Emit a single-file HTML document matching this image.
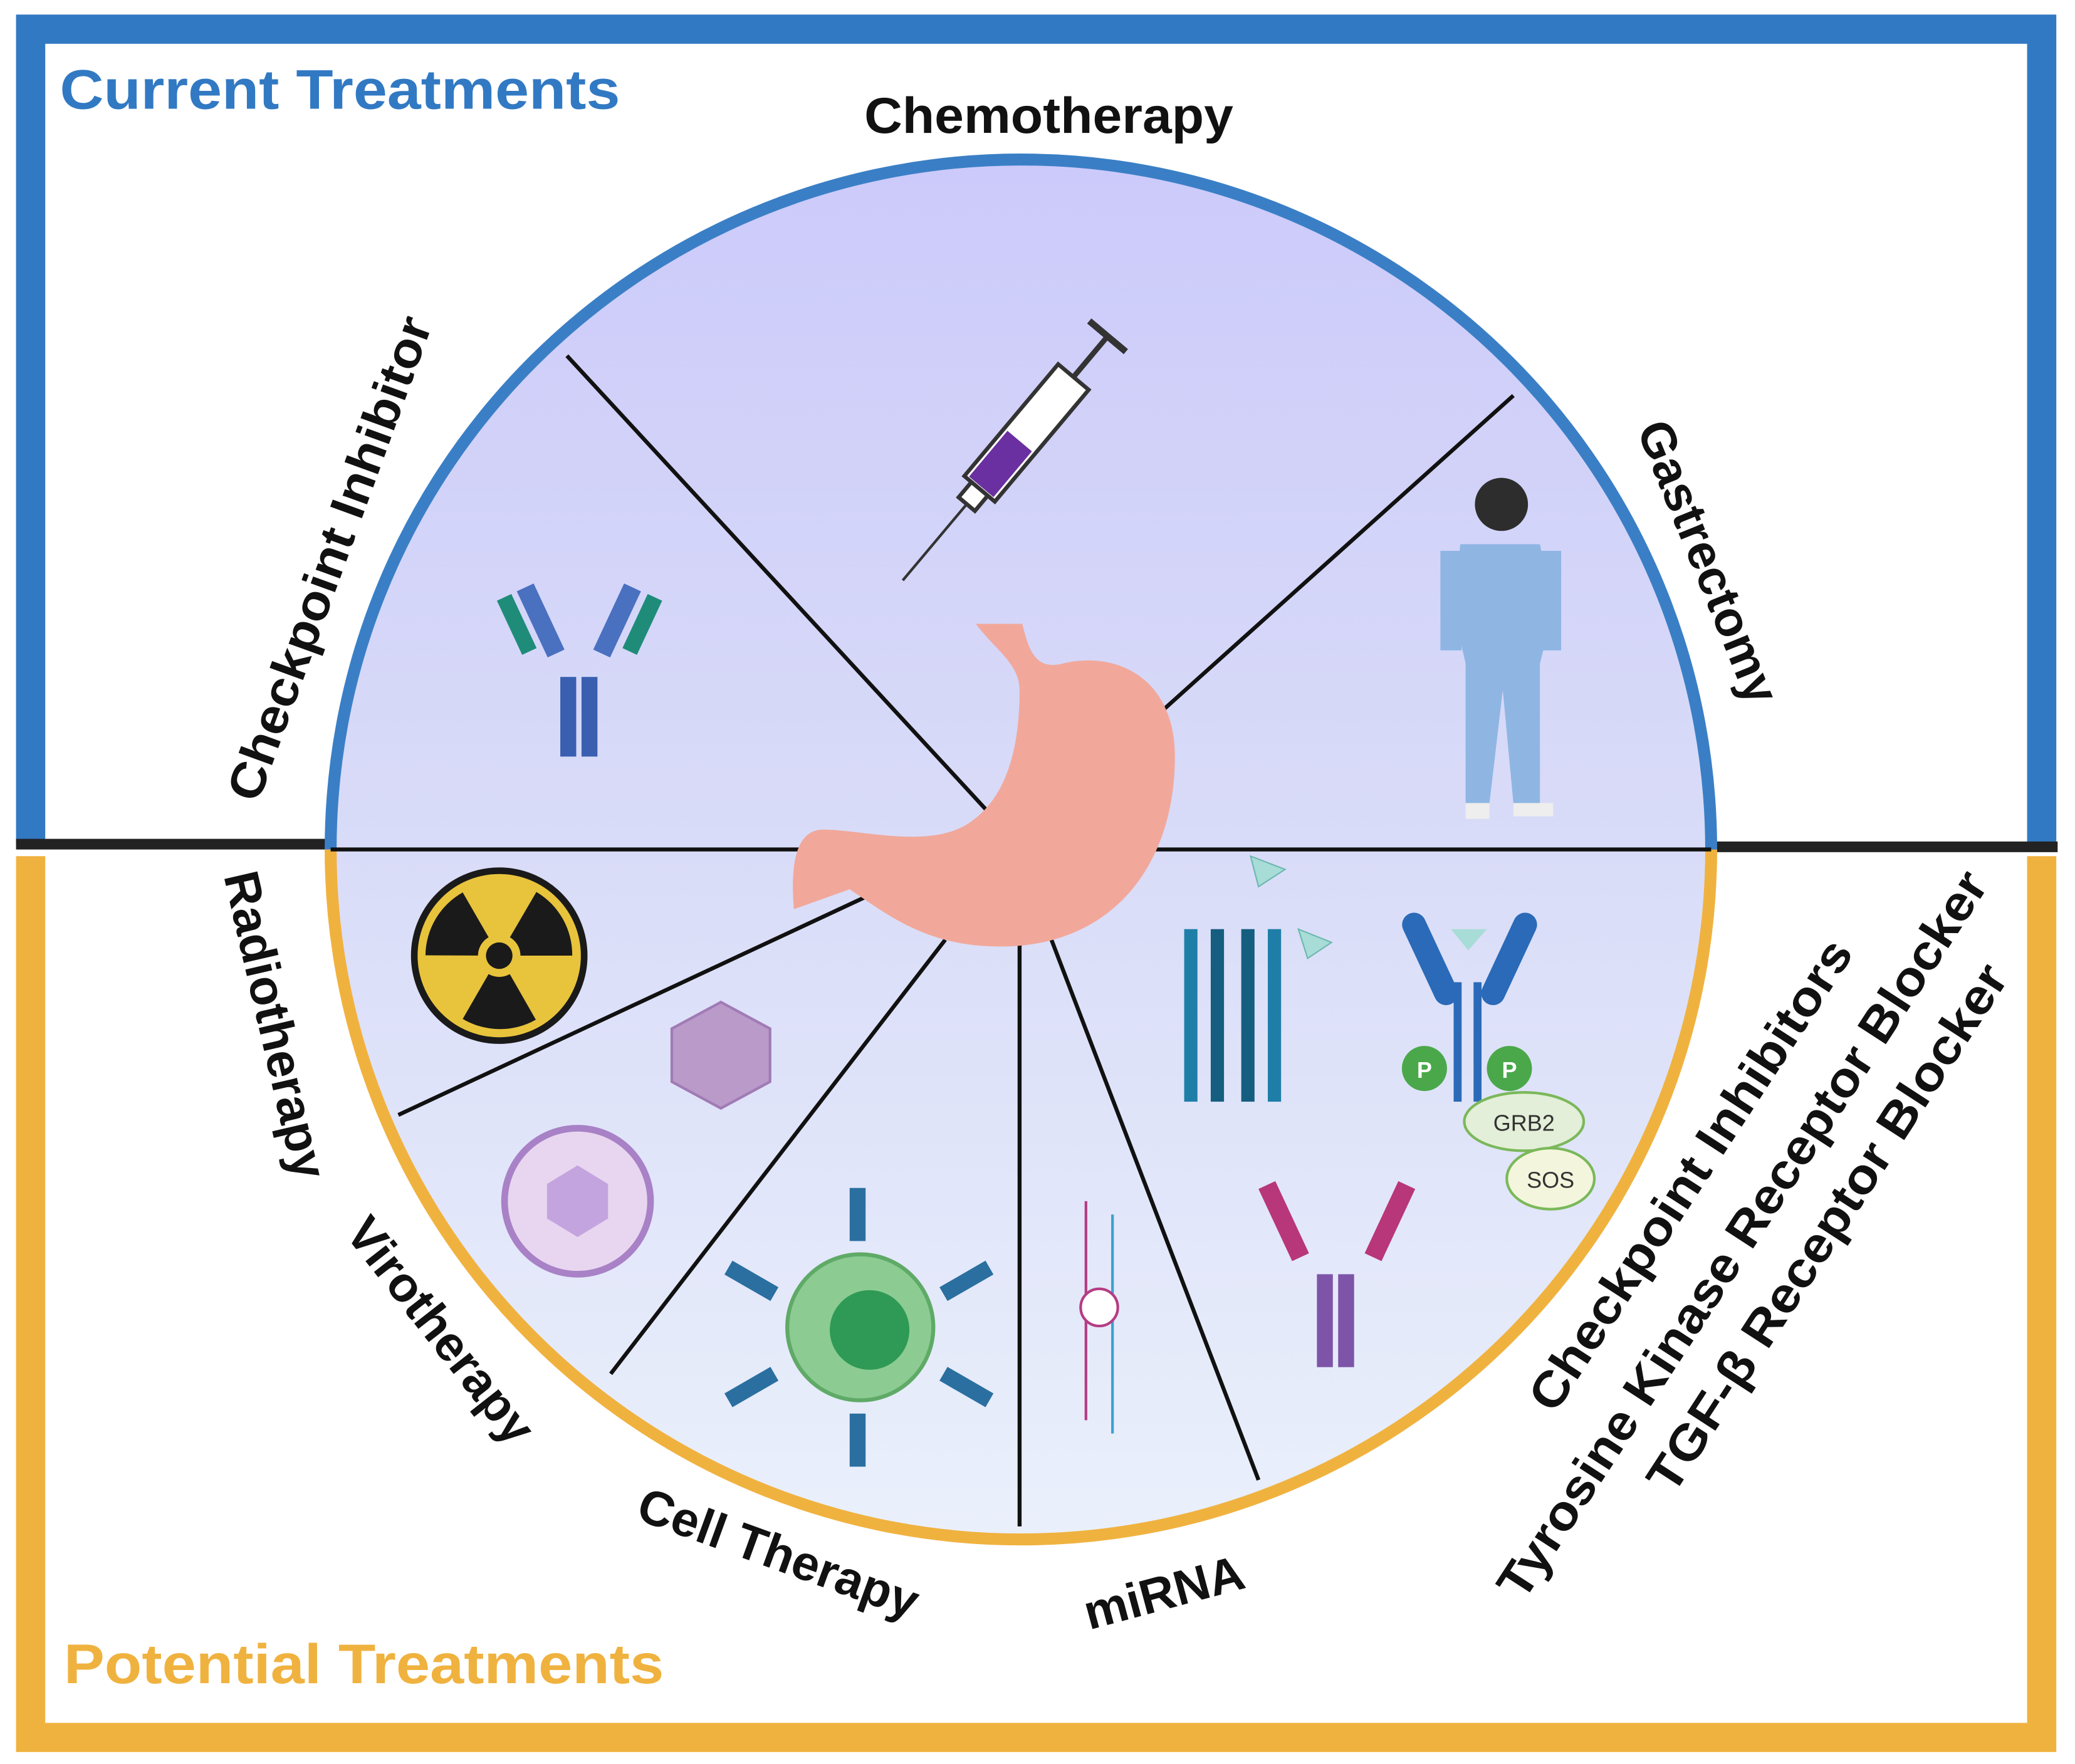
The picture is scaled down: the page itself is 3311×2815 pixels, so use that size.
<!DOCTYPE html>
<html><head><meta charset="utf-8"><style>
html,body{margin:0;padding:0;background:#fff}
svg{display:block}
text{font-family:"Liberation Sans",Arial,sans-serif;font-weight:bold}
</style></head><body>
<svg width="3311" height="2815" viewBox="0 0 1563 1329" xmlns="http://www.w3.org/2000/svg">
<defs>
<linearGradient id="g" x1="0" y1="0" x2="0" y2="1">
<stop offset="0" stop-color="#cccafa"/><stop offset="0.5" stop-color="#d9dcf8"/><stop offset="1" stop-color="#eaf0fb"/>
</linearGradient>
</defs>
<rect width="1563" height="1329" fill="#fff"/>
<path d="M23,636 V22 H1538 V636" fill="none" stroke="#3279c3" stroke-width="22"/>
<path d="M23,645 V1309 H1538 V645" fill="none" stroke="#f0b23f" stroke-width="22"/>
<line x1="12" y1="636" x2="250" y2="636" stroke="#222" stroke-width="8"/>
<line x1="1288" y1="638" x2="1550" y2="638" stroke="#222" stroke-width="8"/>
<circle cx="769" cy="640" r="520" fill="url(#g)"/>
<path d="M249,640 A520,520 0 0 1 1289,640" fill="none" stroke="#3a7fc6" stroke-width="9"/>
<path d="M249,640 A520,520 0 0 0 1289,640" fill="none" stroke="#f0b23f" stroke-width="9"/>
<g stroke="#111" stroke-width="3">
<line x1="249" y1="640" x2="1289" y2="640"/>
<line x1="427" y1="268" x2="752" y2="620"/>
<line x1="1140" y1="298" x2="876" y2="535"/>
<line x1="300" y1="840" x2="660" y2="672"/>
<line x1="460" y1="1035" x2="712" y2="708"/>
<line x1="768" y1="1150" x2="768" y2="708"/>
<line x1="948" y1="1115" x2="792" y2="708"/>
</g>
<path d="M735,470 C750,490 768,500 768,520 C768,560 760,600 730,620 C700,640 650,625 620,625 C600,625 595,650 598,685 L640,670 C670,690 700,715 760,713 C840,710 885,650 885,570 C885,510 840,490 800,500 C780,505 775,490 770,470 Z" fill="#f1a89a"/>
<g transform="rotate(-50 770 330)">
<rect x="720" y="315" width="110" height="30" fill="#fff" stroke="#333" stroke-width="3"/>
<rect x="722" y="318" width="45" height="24" fill="#6a2fa0"/>
<line x1="830" y1="330" x2="870" y2="330" stroke="#333" stroke-width="4"/>
<line x1="870" y1="312" x2="870" y2="348" stroke="#333" stroke-width="5"/>
<rect x="705" y="322" width="15" height="16" fill="#fff" stroke="#333" stroke-width="3"/>
<line x1="705" y1="330" x2="630" y2="330" stroke="#333" stroke-width="2"/>
</g>
<g>
<circle cx="1131" cy="380" r="20" fill="#2d2d2d"/>
<path d="M1100,410 L1160,410 L1170,460 L1160,500 L1160,605 L1140,605 L1132,520 L1122,605 L1104,605 L1104,500 L1095,460 Z" fill="#8fb6e3"/>
<rect x="1085" y="415" width="16" height="75" fill="#8fb6e3"/>
<rect x="1160" y="415" width="16" height="75" fill="#8fb6e3"/>
<rect x="1104" y="605" width="18" height="12" fill="#eee"/><rect x="1140" y="605" width="30" height="10" fill="#eee"/>
</g>
<g fill="#3a5fb0">
<rect x="422" y="510" width="12" height="60"/><rect x="438" y="510" width="12" height="60"/>
<rect x="400" y="440" width="14" height="55" transform="rotate(-25 407 467)" fill="#4a70c0"/>
<rect x="458" y="440" width="14" height="55" transform="rotate(25 465 467)" fill="#4a70c0"/>
<rect x="383" y="448" width="12" height="45" transform="rotate(-25 389 470)" fill="#1f8c7a"/>
<rect x="478" y="448" width="12" height="45" transform="rotate(25 484 470)" fill="#1f8c7a"/>
</g>
<circle cx="376" cy="720" r="64" fill="#e8c33c" stroke="#1a1a1a" stroke-width="5"/>
<g fill="#1a1a1a">
<path d="M376,720 L376,665 A55,55 0 0 0 328,692 Z" transform="rotate(-30 376 720)"/>
<path d="M376,720 L376,665 A55,55 0 0 0 328,692 Z" transform="rotate(90 376 720)"/>
<path d="M376,720 L376,665 A55,55 0 0 0 328,692 Z" transform="rotate(210 376 720)"/>
</g>
<circle cx="376" cy="720" r="16" fill="#e8c33c"/><circle cx="376" cy="720" r="10" fill="#1a1a1a"/>
<polygon points="543,755 580,775 580,815 543,835 506,815 506,775" fill="#b99ac8" stroke="#a07bb5" stroke-width="2"/>
<circle cx="435" cy="905" r="55" fill="#e8d6f0" stroke="#a881c6" stroke-width="5"/>
<polygon points="435,878 458,892 458,918 435,932 412,918 412,892" fill="#c4a4de"/>
<circle cx="648" cy="1000" r="55" fill="#8ccc92" stroke="#5faa67" stroke-width="3"/>
<circle cx="655" cy="1002" r="30" fill="#2f9a55"/>
<g fill="#2a6fa0">
<rect x="640" y="895" width="12" height="40"/><rect x="640" y="1065" width="12" height="40"/>
<rect x="560" y="945" width="12" height="40" transform="rotate(-60 566 965)"/>
<rect x="722" y="945" width="12" height="40" transform="rotate(60 728 965)"/>
<rect x="560" y="1025" width="12" height="40" transform="rotate(60 566 1045)"/>
<rect x="722" y="1025" width="12" height="40" transform="rotate(-60 728 1045)"/>
</g>
<g stroke="#b53c84" stroke-width="2"><line x1="818" y1="905" x2="818" y2="1070"/></g>
<g stroke="#3ba0d0" stroke-width="2"><line x1="838" y1="915" x2="838" y2="1080"/></g>
<circle cx="828" cy="985" r="14" fill="#fff" stroke="#b53c84" stroke-width="2"/>
<g fill="#1e7ea8">
<rect x="892" y="700" width="10" height="130"/><rect x="912" y="700" width="10" height="130" fill="#155e80"/>
<rect x="935" y="700" width="10" height="130" fill="#155e80"/><rect x="955" y="700" width="10" height="130"/>
</g>
<polygon points="942,645 968,655 948,668" fill="#a8dcd6" stroke="#6bb8b0"/>
<polygon points="978,700 1003,710 985,722" fill="#a8dcd6" stroke="#6bb8b0"/>
<g fill="#2a6ab8">
<rect x="1068" y="685" width="18" height="75" rx="9" transform="rotate(-25 1077 722)"/>
<rect x="1128" y="685" width="18" height="75" rx="9" transform="rotate(25 1137 722)"/>
<rect x="1095" y="740" width="6" height="90"/><rect x="1110" y="740" width="6" height="90"/>
</g>
<polygon points="1093,700 1120,700 1106,716" fill="#a8dcd6"/>
<circle cx="1073" cy="805" r="17" fill="#4aa84a"/><circle cx="1137" cy="805" r="17" fill="#4aa84a"/>
<text x="1073" y="812" font-size="17" fill="#fff" text-anchor="middle" font-weight="normal">P</text>
<text x="1137" y="812" font-size="17" fill="#fff" text-anchor="middle" font-weight="normal">P</text>
<ellipse cx="1148" cy="845" rx="45" ry="22" fill="#e3efd8" stroke="#7bb85a" stroke-width="2"/>
<text x="1148" y="852" font-size="17" fill="#333" text-anchor="middle" style="font-weight:normal">GRB2</text>
<ellipse cx="1168" cy="888" rx="33" ry="23" fill="#f3f6dc" stroke="#7bb85a" stroke-width="2"/>
<text x="1168" y="895" font-size="17" fill="#333" text-anchor="middle" style="font-weight:normal">SOS</text>
<g>
<rect x="992" y="960" width="12" height="70" fill="#7d54a8"/><rect x="1008" y="960" width="12" height="70" fill="#7d54a8"/>
<rect x="960" y="890" width="14" height="60" transform="rotate(-25 967 920)" fill="#b8367a"/>
<rect x="1040" y="890" width="14" height="60" transform="rotate(25 1047 920)" fill="#b8367a"/>
</g>
<text x="45" y="82" font-size="42" fill="#3279c3" textLength="422" lengthAdjust="spacingAndGlyphs">Current Treatments</text>
<text x="48" y="1268" font-size="42" fill="#f0b23f" textLength="452" lengthAdjust="spacingAndGlyphs">Potential Treatments</text>
<text x="790" y="100" font-size="38" fill="#111" text-anchor="middle" textLength="278" lengthAdjust="spacingAndGlyphs">Chemotherapy</text>
<g font-size="37" fill="#111" text-anchor="middle">
<text transform="translate(260,425) rotate(-70)" textLength="385" lengthAdjust="spacingAndGlyphs">Checkpoint Inhibitor</text>
<text transform="translate(1275,428) rotate(68)">Gastrectomy</text>
<text transform="translate(195,775) rotate(77)">Radiotherapy</text>
<text transform="translate(322,1010) rotate(52)">Virotherapy</text>
<text transform="translate(582,1182) rotate(20)">Cell Therapy</text>
<text transform="translate(880,1212) rotate(-15)">miRNA</text>
<text transform="translate(1284,892) rotate(-57)" textLength="415" lengthAdjust="spacingAndGlyphs">Checkpoint Inhibitors</text>
<text transform="translate(1323,937) rotate(-57)" textLength="645" lengthAdjust="spacingAndGlyphs">Tyrosine Kinase Receptor Blocker</text>
<text transform="translate(1387,932) rotate(-57)" textLength="466" lengthAdjust="spacingAndGlyphs">TGF-β Receptor Blocker</text>
</g>
</svg>
</body></html>
